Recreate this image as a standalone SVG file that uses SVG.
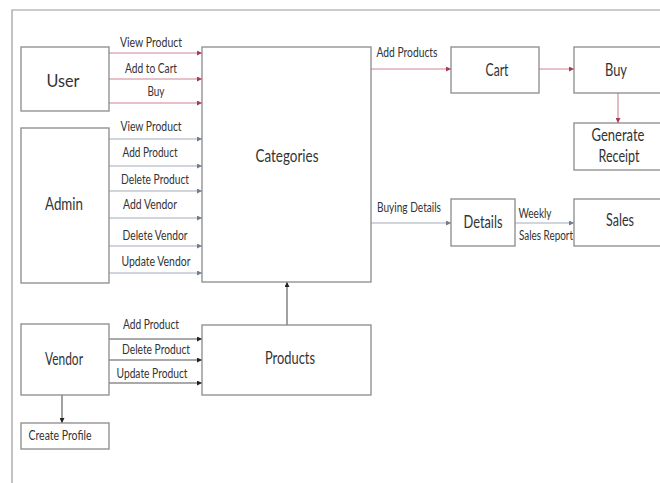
<svg xmlns="http://www.w3.org/2000/svg" width="660" height="483" viewBox="0 0 660 483">
  <defs>
    <style>
      .box { fill: #ffffff; stroke: #8a8a8a; stroke-width: 1.3; }
      .frame { fill: none; stroke: #9a9a9a; stroke-width: 1.2; }
      .node { font-family: Lato, "Open Sans", sans-serif; font-size: 16.5px; font-weight: 400; fill: #333333; text-anchor: middle; }
      .lbl { font-family: Lato, "Open Sans", sans-serif; font-size: 12.5px; fill: #333333; text-anchor: middle; }
      .red { stroke: #cf8390; stroke-width: 1.1; fill: none; marker-end: url(#hRed); }
      .blue { stroke: #a3aebb; stroke-width: 1.1; fill: none; marker-end: url(#hBlue); }
      .dark { stroke: #555555; stroke-width: 1.1; fill: none; marker-end: url(#hDark); }
    </style>
    <marker id="hRed" viewBox="0 0 8 8" refX="8" refY="4" markerWidth="5" markerHeight="5" markerUnits="userSpaceOnUse" orient="auto">
      <path d="M0,0 L8,4 L0,8 z" fill="#a83a52"/>
    </marker>
    <marker id="hBlue" viewBox="0 0 8 8" refX="8" refY="4" markerWidth="5" markerHeight="5" markerUnits="userSpaceOnUse" orient="auto">
      <path d="M0,0 L8,4 L0,8 z" fill="#6f7d8c"/>
    </marker>
    <marker id="hDark" viewBox="0 0 8 8" refX="8" refY="4" markerWidth="5" markerHeight="5" markerUnits="userSpaceOnUse" orient="auto">
      <path d="M0,0 L8,4 L0,8 z" fill="#222222"/>
    </marker>
  </defs>

  <rect width="660" height="483" fill="#ffffff"/>
  <!-- outer frame -->
  <path class="frame" d="M12,483 V10 H662"/>

  <!-- connectors -->
  <g id="connectors">
    <line class="red" x1="109" y1="53" x2="202" y2="53"/>
    <line class="red" x1="109" y1="79" x2="202" y2="79"/>
    <line class="red" x1="109" y1="103" x2="202" y2="103"/>

    <line class="blue" x1="109" y1="139" x2="202" y2="139"/>
    <line class="blue" x1="109" y1="166" x2="202" y2="166"/>
    <line class="blue" x1="109" y1="191" x2="202" y2="191"/>
    <line class="blue" x1="109" y1="218" x2="202" y2="218"/>
    <line class="blue" x1="109" y1="246" x2="202" y2="246"/>
    <line class="blue" x1="109" y1="273" x2="202" y2="273"/>

    <line class="dark" x1="109" y1="339" x2="202" y2="339"/>
    <line class="dark" x1="109" y1="360" x2="202" y2="360"/>
    <line class="dark" x1="109" y1="383" x2="202" y2="383"/>

    <line class="dark" x1="62" y1="395" x2="62" y2="423"/>
    <line class="dark" x1="287" y1="325" x2="287" y2="282"/>

    <line class="red" x1="371" y1="69" x2="451" y2="69"/>
    <line class="red" x1="539" y1="69" x2="574" y2="69"/>
    <line class="red" x1="618" y1="93" x2="618" y2="123"/>

    <line class="blue" x1="371" y1="223" x2="451" y2="223"/>
    <line class="blue" x1="515" y1="223" x2="574" y2="223"/>

    <!-- connector labels -->
    <text class="lbl" x="151" y="47" textLength="62" lengthAdjust="spacingAndGlyphs">View Product</text>
    <text class="lbl" x="151" y="73" textLength="52" lengthAdjust="spacingAndGlyphs">Add to Cart</text>
    <text class="lbl" x="156" y="96" textLength="17" lengthAdjust="spacingAndGlyphs">Buy</text>

    <text class="lbl" x="151" y="131" textLength="61" lengthAdjust="spacingAndGlyphs">View Product</text>
    <text class="lbl" x="150" y="157" textLength="55" lengthAdjust="spacingAndGlyphs">Add Product</text>
    <text class="lbl" x="155" y="184" textLength="68" lengthAdjust="spacingAndGlyphs">Delete Product</text>
    <text class="lbl" x="150" y="209" textLength="54" lengthAdjust="spacingAndGlyphs">Add Vendor</text>
    <text class="lbl" x="155" y="240" textLength="65" lengthAdjust="spacingAndGlyphs">Delete Vendor</text>
    <text class="lbl" x="156" y="266" textLength="69" lengthAdjust="spacingAndGlyphs">Update Vendor</text>

    <text class="lbl" x="151" y="329" textLength="56" lengthAdjust="spacingAndGlyphs">Add Product</text>
    <text class="lbl" x="156" y="354" textLength="68" lengthAdjust="spacingAndGlyphs">Delete Product</text>
    <text class="lbl" x="152" y="378" textLength="71" lengthAdjust="spacingAndGlyphs">Update Product</text>

    <text class="lbl" x="407" y="57" textLength="61" lengthAdjust="spacingAndGlyphs">Add Products</text>
    <text class="lbl" x="409" y="212" textLength="64" lengthAdjust="spacingAndGlyphs">Buying Details</text>
    <text class="lbl" x="535" y="218" textLength="33" lengthAdjust="spacingAndGlyphs">Weekly</text>
    <text class="lbl" x="546" y="240" textLength="54" lengthAdjust="spacingAndGlyphs">Sales Report</text>
  </g>

  <g id="user">
    <rect class="box" x="21" y="47" width="88" height="64"/>
    <text class="node" x="63" y="87" textLength="33" lengthAdjust="spacingAndGlyphs">User</text>
  </g>
  <g id="admin">
    <rect class="box" x="21" y="128" width="88" height="155"/>
    <text class="node" x="64" y="210" textLength="38" lengthAdjust="spacingAndGlyphs">Admin</text>
  </g>
  <g id="vendor">
    <rect class="box" x="21" y="324" width="88" height="71"/>
    <text class="node" x="64" y="365" textLength="38" lengthAdjust="spacingAndGlyphs">Vendor</text>
  </g>
  <g id="create-profile">
    <rect class="box" x="21" y="423" width="88" height="26"/>
    <text class="lbl" x="60" y="440" textLength="63" lengthAdjust="spacingAndGlyphs">Create Profile</text>
  </g>
  <g id="categories">
    <rect class="box" x="202" y="47" width="169" height="235"/>
    <text class="node" x="287" y="162" textLength="63" lengthAdjust="spacingAndGlyphs">Categories</text>
  </g>
  <g id="products">
    <rect class="box" x="202" y="325" width="169" height="70"/>
    <text class="node" x="290" y="364" textLength="50" lengthAdjust="spacingAndGlyphs">Products</text>
  </g>
  <g id="cart">
    <rect class="box" x="451" y="47" width="88" height="46"/>
    <text class="node" x="497" y="76" textLength="23" lengthAdjust="spacingAndGlyphs">Cart</text>
  </g>
  <g id="buy">
    <rect class="box" x="574" y="47" width="90" height="46"/>
    <text class="node" x="616" y="76" textLength="22" lengthAdjust="spacingAndGlyphs">Buy</text>
  </g>
  <g id="generate-receipt">
    <rect class="box" x="574" y="123" width="90" height="47"/>
    <text class="node" x="618" y="141" textLength="53" lengthAdjust="spacingAndGlyphs">Generate</text>
    <text class="node" x="619" y="162" textLength="41" lengthAdjust="spacingAndGlyphs">Receipt</text>
  </g>
  <g id="details">
    <rect class="box" x="451" y="199" width="64" height="47"/>
    <text class="node" x="483" y="228" textLength="39" lengthAdjust="spacingAndGlyphs">Details</text>
  </g>
  <g id="sales">
    <rect class="box" x="574" y="199" width="90" height="47"/>
    <text class="node" x="620" y="226" textLength="28" lengthAdjust="spacingAndGlyphs">Sales</text>
  </g>
</svg>
